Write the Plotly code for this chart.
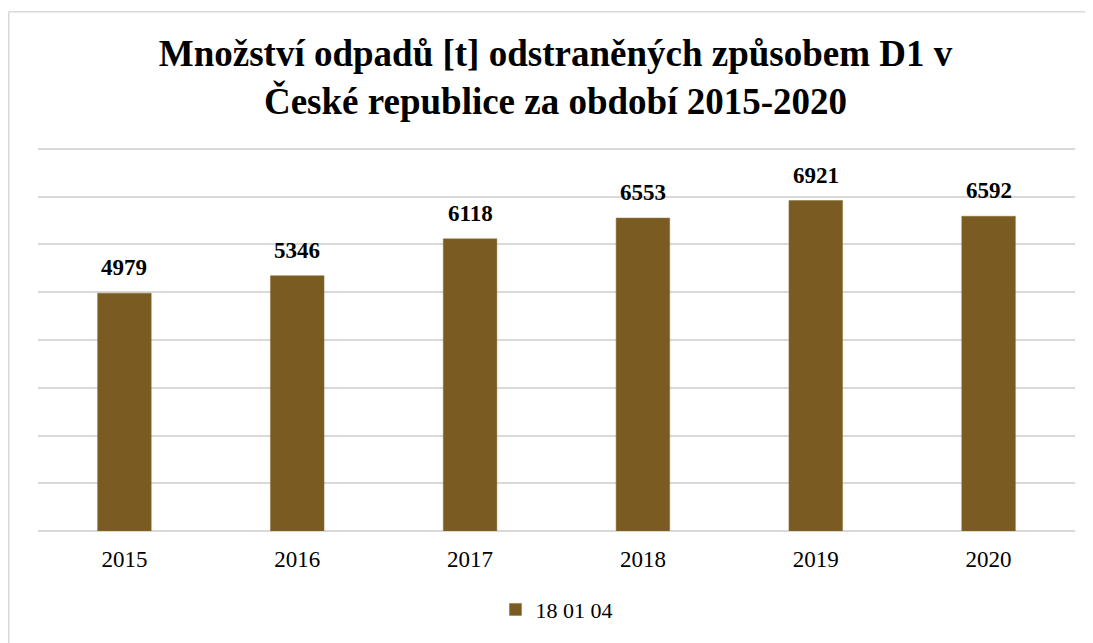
import plotly.graph_objects as go

years = ["2015", "2016", "2017", "2018", "2019", "2020"]
values = [4979, 5346, 6118, 6553, 6921, 6592]
series_name = "18 01 04"
title_text = "Množství odpadů [t] odstraněných způsobem D1 v<br>České republice za období 2015-2020"

# the page adds an 8px body margin, so the figure is drawn 8px right/down
W, H = 1085, 635
L, R, T, B = 30, 18, 138, 110
pw, ph = W - L - R, H - T - B

def px_to_paper_x(px):
    return (px - L) / pw

def px_to_paper_y(py):
    return (H - B - py) / ph

bar_color = "#7a5b21"
grid_color = "#d9d9d9"
font_family = "Liberation Serif"

fig = go.Figure()
fig.add_trace(go.Bar(
    x=years, y=values, name=series_name,
    marker=dict(color=bar_color, line=dict(color="#8a6d35", width=0.5)),
    width=0.31,
    showlegend=True,
))

annotations = []
for i, v in enumerate(values):
    annotations.append(dict(
        x=i, y=v, xref="x", yref="y", text=f"<b>{v}</b>", showarrow=False,
        yanchor="bottom", yshift=11,
        font=dict(family=font_family, size=23, color="#000000"),
    ))

fig.update_layout(
    width=W, height=H,
    margin=dict(l=L, r=R, t=T, b=B, pad=0),
    paper_bgcolor="white", plot_bgcolor="white",
    title=dict(
        text=f"<b>{title_text}</b>",
        x=px_to_paper_x(547.5), xref="paper", xanchor="center",
        y=1 - 58 / H, yref="container", yanchor="middle",
        font=dict(family=font_family, size=37, color="#000000"),
    ),
    xaxis=dict(
        type="category", range=[-0.5, len(years) - 0.5],
        showgrid=False, showline=False, zeroline=False,
        ticks="", tickfont=dict(family=font_family, size=23, color="#000000"),
        ticklabelstandoff=12,
    ),
    yaxis=dict(
        range=[0, 8062.5], dtick=1000, showgrid=True, gridcolor=grid_color, gridwidth=1.5,
        zeroline=True, zerolinecolor=grid_color, zerolinewidth=2,
        showticklabels=False, showline=False, ticks="",
    ),
    legend=dict(
        orientation="h", x=0.5, xanchor="center", y=px_to_paper_y(604), yanchor="middle",
        font=dict(family=font_family, size=22, color="#000000"),
        itemwidth=30,
    ),
    annotations=annotations,
    shapes=[
        dict(type="line", xref="paper", yref="paper",
             x0=px_to_paper_x(0.75), x1=px_to_paper_x(0.75),
             y0=px_to_paper_y(3), y1=px_to_paper_y(660),
             line=dict(color=grid_color, width=1.5)),
        dict(type="line", xref="paper", yref="paper",
             x0=px_to_paper_x(0.75), x1=px_to_paper_x(1110),
             y0=px_to_paper_y(3), y1=px_to_paper_y(3),
             line=dict(color=grid_color, width=1.5)),
    ],
    bargap=0.69,
)

fig.write_html("out.html")
